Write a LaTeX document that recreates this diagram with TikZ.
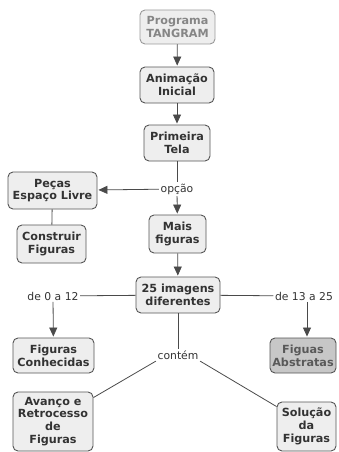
\documentclass[tikz,border=0pt]{standalone}
\usepackage{fontspec}
\setmainfont{DejaVu Sans}
\usetikzlibrary{arrows.meta,calc}
\definecolor{boxfill}{HTML}{EEEEEE}
\definecolor{boxline}{HTML}{555555}
\definecolor{ink}{HTML}{333333}
\definecolor{linkline}{HTML}{4A4A4A}
\begin{document}
\begin{tikzpicture}[x=1pt,y=1pt,
  concept/.style={draw=boxline, fill=boxfill, rounded corners=5pt, line width=0.9pt,
    text=ink, font=\fontsize{11.2}{12.8}\selectfont\bfseries, align=center,
    inner sep=0pt},
  faded/.style={concept, draw=gray!80, text=gray!95},
  shaded/.style={concept, fill=black!22, draw=boxline, text=black!65},
  linklabel/.style={text=ink, font=\fontsize{10.8}{12}\selectfont, inner sep=1.5pt},
  link/.style={draw=linkline, line width=0.8pt},
  arrowlink/.style={link, -{Triangle[width=8pt,length=9pt]}, shorten >=1pt}]
\useasboundingbox (0,0) rectangle (339,-452);

% concepts
\node[faded, minimum width=75pt, minimum height=34pt] (prog) at (177.5,-27) {Programa\\TANGRAM};
\node[concept, minimum width=74pt, minimum height=36pt] (anim) at (177,-85) {Animação\\Inicial};
\node[concept, minimum width=66pt, minimum height=36pt] (prim) at (177,-143) {Primeira\\Tela};
\node[concept, minimum width=89pt, minimum height=37pt] (pecas) at (52.5,-190.5) {Peças\\Espaço Livre};
\node[concept, minimum width=69pt, minimum height=38pt] (constr) at (51.5,-244) {Construir\\Figuras};
\node[concept, minimum width=57pt, minimum height=38pt] (mais) at (177.5,-234) {Mais\\figuras};
\node[concept, minimum width=84pt, minimum height=36pt] (imgs) at (178,-295) {25 imagens\\diferentes};
\node[concept, minimum width=81pt, minimum height=35pt] (conhec) at (53.5,-355.5) {Figuras\\Conhecidas};
\node[shaded, minimum width=66pt, minimum height=35pt] (abstr) at (303,-355.5) {Figuas\\Abstratas};
\node[concept, minimum width=80pt, minimum height=59pt] (avanco) at (53,-421.5) {Avanço e\\Retrocesso\\de\\Figuras};
\node[concept, minimum width=59pt, minimum height=49pt] (solucao) at (306.5,-426.5) {Solução\\da\\Figuras};

% linking phrases
\node[linklabel] (opcao) at (177,-189) {opção};
\node[linklabel] (ate12) at (53,-296) {de 0 a 12};
\node[linklabel] (ate25) at (304,-296) {de 13 a 25};
\node[linklabel] (contem) at (178,-355) {contém};

% connections
\draw[arrowlink] (prog) -- (anim);
\draw[arrowlink] (anim) -- (prim);
\draw[link] (prim) -- (opcao);
\draw[arrowlink] (opcao) -- (pecas);
\draw[arrowlink] (opcao) -- (mais);
\draw[link] (pecas) -- (constr);
\draw[arrowlink] (mais) -- (imgs);
\draw[link] (imgs) -- (ate12);
\draw[link] (imgs) -- (ate25);
\draw[arrowlink] (ate12) -- (conhec);
\draw[arrowlink] (ate25.south -| abstr.north) ++(4,0) -- ($(abstr.north)+(4,0)$);
\draw[link] (imgs) -- (contem);
\draw[link] (contem.south west) -- ($(avanco.north east)+(0,-6)$);
\draw[link] (contem.south east) -- ($(solucao.north west)+(0,-5)$);
\end{tikzpicture}
\end{document}
